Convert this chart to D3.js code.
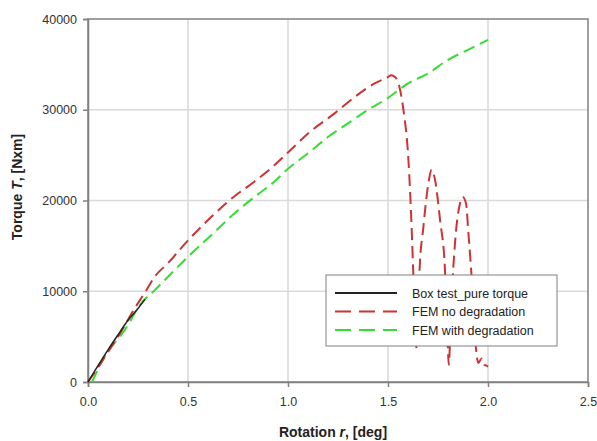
<!DOCTYPE html>
<html>
<head>
<meta charset="utf-8">
<script src="https://cdn.jsdelivr.net/npm/d3@7"></script>
<style>
  body { margin: 0; background: #fff; }
  svg { font-family: "Liberation Sans", Arial, sans-serif; }
</style>
</head>
<body>
<div id="chart"></div>
<script>
// data
const boxRot = [0, 0.05, 0.1, 0.15, 0.2, 0.25, 0.285];
const boxTorque = [0, 1800, 3550, 5200, 6800, 8100, 9100];

const femNoRot = [0, 0.05, 0.1, 0.167, 0.23, 0.283, 0.333, 0.4, 0.5, 0.617, 0.717, 0.833, 0.933, 1.0,
  1.117, 1.233, 1.333, 1.433, 1.5, 1.515, 1.535, 1.555, 1.577, 1.602, 1.618, 1.627, 1.637, 1.643,
  1.65, 1.657, 1.677, 1.702, 1.718, 1.735, 1.76, 1.785, 1.796, 1.804, 1.811, 1.818, 1.835, 1.86,
  1.873, 1.89, 1.902, 1.918, 1.935, 1.952, 1.968, 1.98, 1.993, 2.0];
const femNoTorque = [0, 1600, 3300, 5600, 8000, 9800, 11600, 13100, 15600, 18200, 20200, 22100, 23900, 25300,
  27700, 29600, 31400, 32900, 33600, 33800, 33600, 32700, 30000, 24500, 17100, 11600, 6000, 3700,
  6500, 12000, 17100, 21900, 23400, 22300, 17900, 12300, 6000, 1900, 5000, 9000, 15300, 19700,
  20400, 19700, 16400, 11600, 5000, 2100, 2600, 1900, 1800, 1700];

const femDegRot = [0.02, 0.083, 0.183, 0.267, 0.333, 0.4, 0.5, 0.617, 0.733, 0.833, 0.933, 1.0,
  1.1, 1.2, 1.3, 1.4, 1.5, 1.6, 1.7, 1.8, 1.9, 2.0];
const femDegTorque = [0, 2800, 5700, 8700, 10100, 11600, 13800, 16200, 18600, 20400, 22100, 23500,
  25200, 27000, 28500, 30000, 31300, 32900, 34000, 35500, 36600, 37700];

const xTicks = [0, 0.5, 1.0, 1.5, 2.0, 2.5];
const yTicks = [0, 10000, 20000, 30000, 40000];

const seriesNames = ["Box test_pure torque", "FEM no degradation", "FEM with degradation"];
const seriesColors = ["#222222", "#cc3333", "#33dd33"];
const seriesDash = [null, "12,6", "12,6"];

const W = 597, H = 441;
const margin = { top: 19, right: 9, bottom: 59, left: 88 },
  width = W - margin.left - margin.right,
  height = H - margin.top - margin.bottom;

const svg = d3.select("#chart").append("svg")
  .attr("width", W).attr("height", H);

const g = svg.append("g")
  .attr("transform", "translate(" + margin.left + "," + margin.top + ")");

const x = d3.scaleLinear().domain([0, 2.5]).range([0, width]);
const y = d3.scaleLinear().domain([0, 40000]).range([height, 0]);

// grid
g.append("g").selectAll("line").data(xTicks.slice(1, -1)).enter().append("line")
  .attr("x1", d => x(d)).attr("x2", d => x(d))
  .attr("y1", 0).attr("y2", height)
  .attr("stroke", "#d9d9d9").attr("stroke-width", 1.5);
g.append("g").selectAll("line").data(yTicks.slice(1, -1)).enter().append("line")
  .attr("x1", 0).attr("x2", width)
  .attr("y1", d => y(d)).attr("y2", d => y(d))
  .attr("stroke", "#d9d9d9").attr("stroke-width", 1.5);

// frame
g.append("rect")
  .attr("width", width).attr("height", height)
  .attr("fill", "none").attr("stroke", "#808080").attr("stroke-width", 1.5);

// axes
const xAxis = g.append("g")
  .attr("transform", "translate(0," + height + ")")
  .call(d3.axisBottom(x).tickValues(xTicks).tickFormat(d3.format(".1f")).tickSize(5).tickPadding(10));
const yAxis = g.append("g")
  .call(d3.axisLeft(y).tickValues(yTicks).tickFormat(d => d).tickSize(5).tickPadding(6));

[xAxis, yAxis].forEach(a => {
  a.select(".domain").attr("stroke", "#808080").attr("stroke-width", 1.5);
  a.selectAll(".tick line").attr("stroke", "#808080").attr("stroke-width", 1.5);
  a.selectAll(".tick text").attr("fill", "#333").style("font-size", "12.5px");
});

// lines
const line = d3.line().curve(d3.curveMonotoneX).x(d => x(d[0])).y(d => y(d[1]));
const seriesData = [
  d3.zip(boxRot, boxTorque),
  d3.zip(femNoRot, femNoTorque),
  d3.zip(femDegRot, femDegTorque)
];
// draw green first, then red, black on top
[2, 1, 0].forEach(i => {
  g.append("path")
    .datum(seriesData[i])
    .attr("fill", "none")
    .attr("stroke", seriesColors[i])
    .attr("stroke-width", i === 0 ? 1.5 : 2)
    .attr("stroke-dasharray", seriesDash[i])
    .attr("d", line);
});

// axis titles
const xt = svg.append("text")
  .attr("x", margin.left + width / 2 - 5).attr("y", 437)
  .attr("text-anchor", "middle")
  .style("font-size", "14px").style("font-weight", "bold").attr("fill", "#222");
xt.append("tspan").text("Rotation ");
xt.append("tspan").style("font-style", "italic").text("r");
xt.append("tspan").text(", [deg]");

const yt = svg.append("text")
  .attr("transform", "translate(22,187)rotate(-90)")
  .attr("text-anchor", "middle")
  .style("font-size", "14px").style("font-weight", "bold").attr("fill", "#222");
yt.append("tspan").text("Torque ");
yt.append("tspan").style("font-style", "italic").text("T");
yt.append("tspan").text(", [Nxm]");

// legend
const legend = svg.append("g").attr("transform", "translate(326,275)");
legend.append("rect")
  .attr("width", 231).attr("height", 71)
  .attr("fill", "#fff").attr("stroke", "#808080").attr("stroke-width", 1);
seriesNames.forEach((name, i) => {
  const yy = 18 + i * 18.5;
  legend.append("line")
    .attr("x1", 9).attr("x2", 71).attr("y1", yy).attr("y2", yy)
    .attr("stroke", seriesColors[i])
    .attr("stroke-width", 2)
    .attr("stroke-dasharray", i === 0 ? null : "16,8");
  legend.append("text")
    .attr("x", 86).attr("y", yy + 4.5)
    .style("font-size", "12.5px").attr("fill", "#222")
    .text(name);
});
</script>
</body>
</html>
